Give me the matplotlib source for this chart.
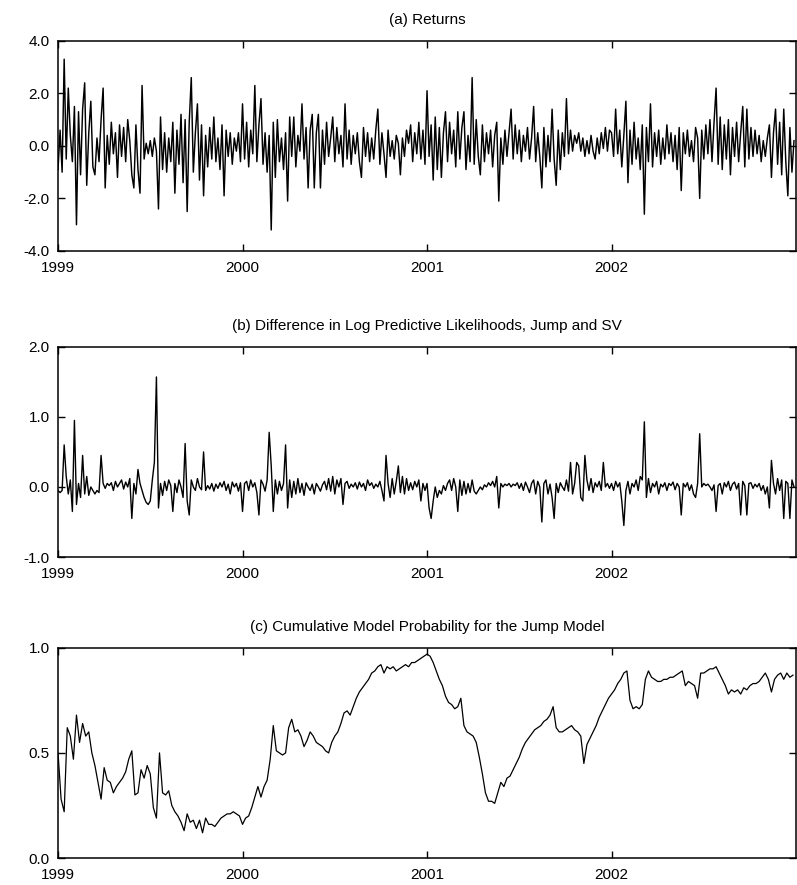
import numpy as np
import matplotlib
matplotlib.use("Agg")
import matplotlib.pyplot as plt

plt.rcParams['font.family'] = ['Liberation Sans', 'DejaVu Sans']

years = [1999, 2000, 2001, 2002]
year_labels = ['1999', '2000', '2001', '2002']

# (a) returns (about 90 obs per year)
returns_1999 = [-0.9, 0.6, -1.0, 3.3, -0.5, 2.2, 0.4, -0.6, 1.5, -3.0, 1.3, -1.1, 1.4, 2.4, -1.5, 0.5, 1.7, -0.8,
                -1.1, 0.3, -0.6, 1.0, 2.2, -1.6, 0.4, -0.7, 0.9, -0.3, 0.5, -1.2, 0.8, -0.4, 0.7, -0.6, 1.0, 0.2,
                -1.1, -1.6, 0.8, -0.9, -1.8, 2.3, -0.5, 0.1, -0.3, 0.2, -0.4, 0.3, -0.2, -2.4, 1.1, -0.9, 0.5, -1.0,
                0.3, -0.6, 0.9, -1.8, 0.6, -0.7, 1.2, -1.4, 1.0, -2.5, 0.9, 2.6, -1.0, 0.5, 1.6, -1.3, 0.8, -1.9,
                0.4, -0.8, 0.7, -0.5, 1.1, -0.6, 0.3, -0.9, 0.8, -1.9, 0.6, -0.4, 0.5, -0.7, 0.3, -0.2, 0.5, -0.6]
returns_2000 = [1.6, -0.5, 0.9, -0.8, 0.6, -0.3, 2.3, -0.6, 0.8, 1.8, -0.7, 0.5, -1.0, 0.4, -3.2, 0.9, -1.2, 1.0,
                -0.6, 0.3, -0.9, 0.5, -2.1, 1.1, -0.4, 1.1, -0.8, 0.4, -0.2, 1.6, -0.5, 0.7, -1.6, 0.6, 1.2, -1.6,
                0.5, 1.2, -1.6, 0.6, -0.7, 0.9, -0.4, 0.3, 1.1, -0.6, 0.7, -0.3, 0.4, -0.8, 1.6, -0.5, 0.6, -0.7,
                0.4, -0.3, 0.5, -0.6, -1.2, 0.7, -0.4, 0.5, -0.6, 0.3, -0.5, 0.6, 1.4, -0.7, 0.5, -0.3, -1.2, 0.6,
                -0.4, 0.2, -0.5, 0.4, 0.1, -1.1, 0.3, -0.4, 0.6, 0.1, 0.8, -0.6, 0.5, -0.3, 0.9, -0.5, 0.6, -0.7]
returns_2001 = [2.1, -0.4, 0.8, -1.3, 1.1, -0.9, 0.7, -1.2, 0.5, 1.3, -0.6, 0.9, -0.3, 0.6, -0.8, 1.3, -0.5, 0.7,
                1.3, -0.9, 0.4, -0.6, 2.6, -0.7, 1.0, -0.4, -1.1, 0.8, -0.6, 0.5, -0.3, 0.6, -0.8, 0.4, 0.9, -2.1,
                0.3, -0.7, 0.6, -0.4, 0.5, 1.4, -0.5, 0.8, -0.3, 0.6, -0.6, 0.4, -0.2, 0.7, -0.5, 0.3, 1.5, -0.6,
                0.5, -0.4, -1.6, 0.7, -0.8, 0.4, -0.6, 1.4, -0.5, -1.5, 0.6, -0.9, 0.5, -0.4, 1.8, -0.3, 0.6, -0.2,
                0.4, 0.1, 0.5, -0.2, 0.3, -0.4, 0.2, -0.3, 0.4, -0.2, -0.5, 0.3, -0.3, 0.5, -0.1, 0.7, -0.2, 0.6]
returns_2002 = [0.5, -0.4, 1.4, -0.3, 0.6, -0.8, 0.4, 1.7, -1.4, 0.6, -0.7, 0.9, -0.5, 0.3, -0.9, 0.8, -2.6, 0.7,
                -0.6, 1.6, -0.8, 0.5, -0.4, 0.6, -0.7, 0.3, -0.5, 0.8, -0.3, 0.5, -0.6, 0.4, -0.9, 0.7, -1.7, 0.5,
                -0.3, 0.6, -0.4, 0.2, -0.6, 0.7, 0.3, -2.0, 0.6, -0.5, 0.8, -0.3, 1.0, -0.6, 0.9, 2.2, -0.7, 1.1,
                -0.9, 0.8, -0.5, 1.0, -1.1, 0.7, -0.4, 0.9, -0.6, 0.5, 1.5, -0.8, 1.4, -0.5, 0.7, -0.4, 0.6, -0.3,
                0.4, -0.6, 0.2, -0.4, 0.3, 0.8, -1.2, 0.5, 1.4, -0.7, 0.9, -1.1, 1.4, -0.6, -1.9, 0.7, -1.0, 0.2]

# (b) difference in log predictive likelihoods
loglik_1999 = [-0.05, -0.08, -0.05, 0.6, 0.15, -0.1, 0.1, -0.35, 0.95, -0.25, 0.05, -0.15, 0.45, -0.1, 0.15, -0.12,
               0.0, -0.05, -0.1, -0.05, -0.08, 0.45, 0.05, -0.02, 0.05, 0.02, 0.06, -0.05, 0.08, 0.0, 0.05, 0.1,
               -0.03, 0.07, 0.0, 0.12, -0.45, 0.05, -0.1, 0.25, 0.05, -0.05, -0.15, -0.22, -0.25, -0.2, 0.1, 0.35,
               1.57, -0.3, 0.05, -0.12, 0.08, -0.05, 0.1, 0.02, -0.35, 0.05, -0.08, 0.1, 0.0, -0.15, 0.62, -0.2,
               -0.4, 0.1, 0.0, -0.05, 0.12, 0.0, -0.04, 0.5, -0.05, 0.02, -0.03, 0.05, -0.06, 0.04, -0.02, 0.06,
               0.0, 0.08, -0.05, 0.04, -0.1, 0.07, 0.0, 0.05, -0.06, 0.06]
loglik_2000 = [-0.35, 0.05, 0.08, -0.05, 0.1, 0.0, 0.06, -0.08, -0.4, 0.1, 0.04, -0.06, 0.1, 0.78, 0.3, -0.35,
               0.1, -0.1, 0.08, -0.05, 0.05, 0.6, -0.3, 0.1, -0.15, 0.08, -0.1, 0.12, -0.08, 0.05, -0.12, 0.06,
               0.0, -0.05, 0.04, -0.1, 0.05, 0.0, -0.06, 0.03, 0.08, -0.04, 0.12, -0.06, 0.15, -0.1, 0.1, 0.0,
               0.12, -0.25, 0.05, 0.08, -0.02, 0.04, 0.0, 0.06, -0.03, 0.07, 0.0, 0.05, -0.05, 0.1, 0.02, 0.06,
               -0.02, 0.04, 0.0, 0.08, -0.05, -0.2, 0.45, 0.05, -0.15, 0.12, -0.1, 0.08, 0.3, -0.08, 0.15, -0.1,
               0.12, -0.05, 0.06, -0.04, 0.08, 0.0, 0.1, -0.2, 0.05, -0.05]
loglik_2001 = [0.05, -0.3, -0.45, -0.2, 0.0, -0.15, -0.05, -0.1, 0.02, -0.05, 0.05, 0.1, -0.05, 0.12, 0.0, -0.35,
               0.1, -0.12, 0.08, -0.1, 0.05, -0.08, 0.1, -0.06, -0.1, -0.05, 0.0, -0.04, 0.03, 0.0, 0.06, 0.02,
               0.08, 0.0, 0.15, -0.3, 0.05, 0.0, 0.04, 0.02, 0.05, 0.0, 0.04, 0.02, 0.06, -0.02, 0.05, -0.05,
               0.07, 0.0, -0.08, 0.05, 0.1, -0.1, 0.08, 0.0, -0.5, 0.05, 0.1, -0.1, 0.04, -0.15, -0.45, 0.05,
               -0.08, 0.06, 0.0, -0.05, 0.1, -0.06, 0.35, -0.1, 0.05, 0.35, 0.3, -0.15, -0.2, 0.45, 0.1, -0.05,
               0.12, -0.08, 0.06, 0.0, 0.08, -0.05, 0.35, 0.0, 0.05, -0.02]
loglik_2002 = [0.05, -0.05, 0.08, 0.0, 0.06, -0.2, -0.55, -0.05, 0.08, -0.1, 0.05, 0.0, 0.1, -0.05, 0.15, 0.1,
               0.93, -0.15, 0.12, -0.08, 0.05, 0.0, 0.08, -0.1, 0.04, 0.0, 0.06, -0.05, 0.05, 0.02, 0.07, -0.04,
               0.05, 0.0, -0.4, 0.05, 0.0, 0.06, -0.05, 0.03, -0.1, -0.15, 0.05, 0.76, 0.0, 0.05, 0.02, 0.04,
               0.0, -0.05, 0.03, -0.35, 0.02, 0.05, -0.1, 0.06, 0.0, 0.08, -0.05, 0.04, 0.07, -0.03, 0.05, -0.4,
               0.08, 0.02, -0.4, 0.05, 0.06, -0.02, 0.04, 0.0, 0.05, -0.05, 0.02, -0.1, 0.0, -0.3, 0.38, 0.05,
               -0.1, 0.12, -0.05, 0.1, -0.45, 0.08, 0.05, -0.45, 0.1, 0.0]

# (c) cumulative model probability for the jump model (about 60 obs per year)
prob_1999 = [0.50, 0.28, 0.22, 0.62, 0.58, 0.47, 0.68, 0.55, 0.64, 0.58, 0.60, 0.50, 0.44, 0.36, 0.28, 0.43,
             0.37, 0.36, 0.31, 0.34, 0.36, 0.38, 0.41, 0.47, 0.51, 0.30, 0.31, 0.42, 0.38, 0.44, 0.40, 0.24,
             0.19, 0.50, 0.31, 0.30, 0.32, 0.25, 0.22, 0.20, 0.17, 0.13, 0.21, 0.17, 0.18, 0.14, 0.18, 0.12,
             0.19, 0.16, 0.16, 0.15, 0.17, 0.19, 0.20, 0.21, 0.21, 0.22, 0.21, 0.20]
prob_2000 = [0.16, 0.19, 0.20, 0.24, 0.29, 0.34, 0.29, 0.34, 0.37, 0.47, 0.63, 0.51, 0.50, 0.49, 0.50, 0.62,
             0.66, 0.60, 0.61, 0.58, 0.53, 0.56, 0.60, 0.58, 0.55, 0.54, 0.53, 0.51, 0.50, 0.55, 0.58, 0.60,
             0.64, 0.69, 0.70, 0.68, 0.72, 0.76, 0.79, 0.81, 0.83, 0.85, 0.88, 0.89, 0.91, 0.92, 0.88, 0.91,
             0.90, 0.91, 0.89, 0.90, 0.91, 0.92, 0.91, 0.93, 0.93, 0.94, 0.95, 0.96]
prob_2001 = [0.97, 0.96, 0.93, 0.89, 0.85, 0.82, 0.77, 0.74, 0.73, 0.71, 0.72, 0.76, 0.63, 0.60, 0.59, 0.58,
             0.55, 0.48, 0.40, 0.31, 0.27, 0.27, 0.26, 0.31, 0.36, 0.34, 0.38, 0.39, 0.42, 0.45, 0.48, 0.52,
             0.55, 0.57, 0.59, 0.61, 0.62, 0.63, 0.65, 0.66, 0.68, 0.72, 0.62, 0.60, 0.60, 0.61, 0.62, 0.63,
             0.61, 0.60, 0.58, 0.45, 0.54, 0.57, 0.60, 0.63, 0.67, 0.70, 0.73, 0.76]
prob_2002 = [0.78, 0.80, 0.83, 0.85, 0.88, 0.89, 0.75, 0.71, 0.72, 0.71, 0.73, 0.85, 0.89, 0.86, 0.85, 0.84,
             0.84, 0.85, 0.85, 0.86, 0.86, 0.87, 0.88, 0.89, 0.82, 0.84, 0.83, 0.82, 0.76, 0.88, 0.88, 0.89,
             0.90, 0.90, 0.91, 0.88, 0.85, 0.82, 0.78, 0.80, 0.79, 0.80, 0.78, 0.81, 0.80, 0.82, 0.83, 0.83,
             0.84, 0.86, 0.88, 0.85, 0.79, 0.85, 0.87, 0.88, 0.85, 0.88, 0.86, 0.87]


def on_calendar(*chunks):
    # spread each year's observations evenly across that calendar year
    xs, ys = [], []
    for yr, vals in zip(years, chunks):
        n = len(vals)
        xs.extend(yr + np.arange(n) / n)
        ys.extend(vals)
    return np.array(xs), np.array(ys)


panels = [
    ("(a) Returns", on_calendar(returns_1999, returns_2000, returns_2001, returns_2002),
     (-4, 4), [-4, -2, 0, 2, 4], ['-4.0', '-2.0', '0.0', '2.0', '4.0'], 1.05),
    ("(b) Difference in Log Predictive Likelihoods, Jump and SV",
     on_calendar(loglik_1999, loglik_2000, loglik_2001, loglik_2002),
     (-1, 2), [-1, 0, 1, 2], ['-1.0', '0.0', '1.0', '2.0'], 1.0),
    ("(c) Cumulative Model Probability for the Jump Model",
     on_calendar(prob_1999, prob_2000, prob_2001, prob_2002),
     (0, 1), [0, 0.5, 1], ['0.0', '0.5', '1.0'], 0.9),
]

fig = plt.figure(figsize=(7.97, 8.85), dpi=100)
bottoms = [0.7164, 0.3706, 0.0305]

for (title, (x, y), ylim, yt, ytl, lw), b in zip(panels, bottoms):
    ax = fig.add_axes([0.0728, b, 0.926, 0.2375])
    ax.plot(x, y, color='black', lw=lw)
    ax.set_xlim(1999, 2003)
    ax.set_ylim(*ylim)
    ax.set_xticks(years)
    ax.set_xticklabels(year_labels)
    ax.set_yticks(yt)
    ax.set_yticklabels(ytl)
    ax.tick_params(direction='in', length=5, width=1, top=True, right=True,
                   labelsize=11, pad=6, colors='black')
    ax.tick_params(axis='x', pad=7)
    for s in ax.spines.values():
        s.set_linewidth(1.1)
    ax.set_title(title, fontsize=11, pad=12)

fig.savefig("out.png", dpi=100)
